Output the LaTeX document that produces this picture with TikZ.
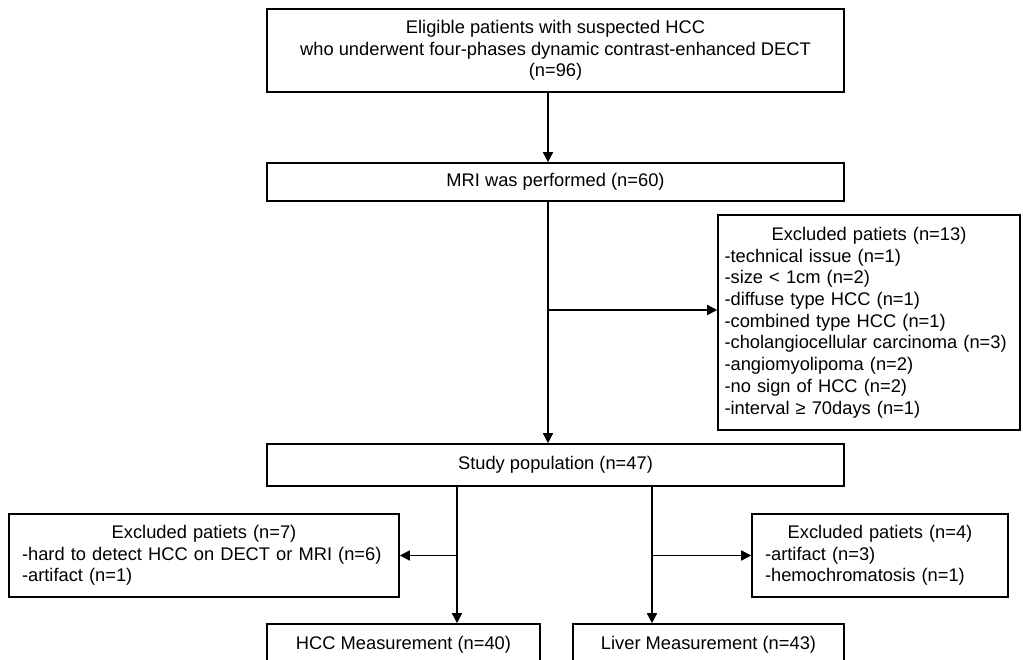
\documentclass[tikz,border=0pt]{standalone}
\usepackage{fontspec}
\setmainfont{Liberation Sans}
\usetikzlibrary{arrows.meta}

\begin{document}
\begin{tikzpicture}[x=1pt,y=-1pt,
	box/.style={draw, line width=1.6pt, align=center, inner sep=0pt, font=\fontsize{18.3}{21.7}\selectfont},
	excl/.style={draw, line width=1.6pt, align=left, inner ysep=0pt, font=\fontsize{18.3}{21.7}\selectfont},
	arr/.style={line width=1.6pt, -{Triangle[length=10pt,width=10pt]}}]
	 \useasboundingbox (0,0) rectangle (1023,660);
	 \clip (0,0) rectangle (1023,660);
	 \node[box, minimum width=577pt, minimum height=83pt] (elig) at (555.5,50.5) {Eligible patients with suspected HCC\\who underwent four-phases dynamic contrast-enhanced DECT\\(n=96)};
	 \node[box, minimum width=577pt, minimum height=38pt] (mri) at (555.5,182) {MRI was performed (n=60)};
	 \node[excl, text width=289pt, inner xsep=6.5pt, minimum height=215pt] (ex13) at (869,322.5) {\centerline{Excluded patiets (n=13)}\\-technical issue (n=1)\\-size < 1cm (n=2)\\-diffuse type HCC (n=1)\\-combined type HCC (n=1)\\-cholangiocellular carcinoma (n=3)\\-angiomyolipoma (n=2)\\-no sign of HCC (n=2)\\-interval ≥ 70days (n=1)};
	 \node[box, minimum width=577pt, minimum height=42pt] (study) at (555.5,465) {Study population (n=47)};
	 \node[excl, text width=364pt, inner xsep=13pt, minimum height=83pt] (ex7) at (204,555.5) {\centerline{Excluded patiets (n=7)}\\-hard to detect HCC on DECT or MRI (n=6)\\-artifact (n=1)};
	 \node[excl, text width=230pt, inner xsep=13pt, minimum height=83pt] (ex4) at (880,555.5) {\centerline{Excluded patiets (n=4)}\\-artifact (n=3)\\-hemochromatosis (n=1)};
	 \node[box, minimum width=273pt, minimum height=42pt] (hcc) at (403.5,645) {HCC Measurement (n=40)};
	 \node[box, minimum width=271pt, minimum height=42pt] (liver) at (708.5,645) {Liver Measurement (n=43)};

	 \coordinate (m) at (548,310);
	 \coordinate (l) at (457,555.5);
	 \coordinate (r) at (652,555.5);
	 \draw[arr] (elig.south -| m) -- (mri.north -| m);
	 \draw[arr] (mri.south -| m) -- (study.north -| m);
	 \draw[arr] (m) -- (m -| ex13.west);
	 \draw[arr] (study.south -| l) -- (hcc.north -| l);
	 \draw[arr] (l) -- (l -| ex7.east);
	 \draw[arr] (study.south -| r) -- (liver.north -| r);
	 \draw[arr] (r) -- (r -| ex4.west);
\end{tikzpicture}
\end{document}
